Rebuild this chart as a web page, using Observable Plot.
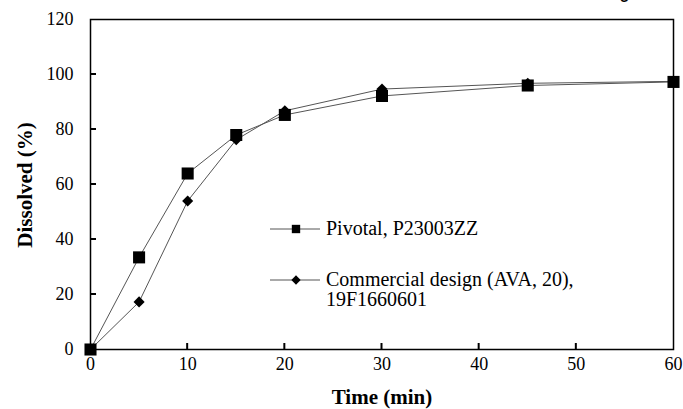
<!DOCTYPE html>
<html>
<head>
<meta charset="utf-8">
<script src="https://cdn.jsdelivr.net/npm/d3@7"></script>
<script src="https://cdn.jsdelivr.net/npm/@observablehq/plot@0.6"></script>
<style>
  html, body { margin: 0; padding: 0; background: #fff; overflow: hidden; }
  #wrap { position: relative; width: 683px; height: 409px; overflow: hidden; }
</style>
</head>
<body>
<div id="wrap">
  <div id="chart"></div>
</div>
<script>
const titleText = "Dissolution Profile: Pivotal vs Commercial Coating";
const times = [0, 5, 10, 15, 20, 30, 45, 60];
const pivotal = [0, 33.5, 64, 78, 85.3, 92.2, 96, 97.3];
const commercial = [0, 17.3, 54, 76.3, 86.8, 94.7, 96.8, 97.5];
const seriesNames = ["Pivotal, P23003ZZ", "Commercial design (AVA, 20),\n19F1660601"];
const xTicks = [0, 10, 20, 30, 40, 50, 60];
const yTicks = [0, 20, 40, 60, 80, 100, 120];

const rowsP = times.map((t, i) => ({t, v: pivotal[i]}));
const rowsC = times.map((t, i) => ({t, v: commercial[i]}));

const serif = '"Liberation Serif", "Times New Roman", serif';

const chart = Plot.plot({
  width: 683,
  height: 409,
  marginLeft: 90,
  marginRight: 10,
  marginTop: 19,
  marginBottom: 60,
  style: {fontFamily: serif, fontSize: "18px", color: "#000", background: "transparent", overflow: "hidden"},
  x: {domain: [0, 60]},
  y: {domain: [0, 120]},
  marks: [
    Plot.axisX({ticks: xTicks, tickSize: 0, tickPadding: 8, label: null}),
    Plot.axisY({ticks: yTicks, tickSize: 0, tickPadding: 17, label: null}),
    Plot.line(rowsC, {x: "t", y: "v", stroke: "#555", strokeWidth: 1}),
    Plot.line(rowsP, {x: "t", y: "v", stroke: "#555", strokeWidth: 1}),
    Plot.dot(rowsC, {x: "t", y: "v", symbol: "diamond2", r: 5, fill: "#000", stroke: "none"}),
    Plot.dot(rowsP, {x: "t", y: "v", symbol: "square", r: 6.8, fill: "#000", stroke: "none"}),
    Plot.frame({stroke: "#000", strokeWidth: 1.5})
  ]
});
document.getElementById("chart").appendChild(chart);

const sx = chart.scale("x"), sy = chart.scale("y");
const xs = v => sx.apply(v), ys = v => sy.apply(v);
const svg = d3.select(chart);

// inward ticks
const tk = svg.append("g").attr("stroke", "#000").attr("stroke-width", 2);
xTicks.slice(1, -1).forEach(v => {
  tk.append("line").attr("x1", xs(v)).attr("x2", xs(v)).attr("y1", ys(0)).attr("y2", ys(0) - 6);
});
yTicks.slice(1, -1).forEach(v => {
  tk.append("line").attr("x1", xs(0)).attr("x2", xs(0) + 6).attr("y1", ys(v)).attr("y2", ys(v));
});

// clipped title (only its lower edge shows, as in the source)
svg.append("text").attr("x", 195).attr("y", -3).attr("text-anchor", "start")
  .attr("textLength", 435).attr("lengthAdjust", "spacingAndGlyphs")
  .attr("font-family", '"Liberation Sans", Arial, sans-serif').attr("font-size", 24).text(titleText);

// axis titles
svg.append("text").attr("x", 382).attr("y", 404).attr("text-anchor", "middle")
  .attr("font-family", serif).attr("font-weight", "bold").attr("font-size", 21).text("Time (min)");
svg.append("text").attr("transform", "translate(32,185) rotate(-90)").attr("text-anchor", "middle")
  .attr("font-family", serif).attr("font-weight", "bold").attr("font-size", 21).text("Dissolved (%)");

// legend
const leg = svg.append("g").attr("transform", "translate(270,229)");
const rowsY = [0, 51];
const syms = [d3.symbolSquare, d3.symbolDiamond2];
const symSize = [70, 55];
seriesNames.forEach((name, i) => {
  const g = leg.append("g").attr("transform", `translate(0,${rowsY[i]})`);
  g.append("line").attr("x1", 0).attr("x2", 50).attr("stroke", "#555").attr("stroke-width", 1);
  g.append("path").attr("d", d3.symbol(syms[i], symSize[i])()).attr("transform", "translate(26,0)").attr("fill", "#000");
  name.split("\n").forEach((ln, j) => {
    g.append("text").attr("x", 56).attr("y", 6 + j * 20).attr("text-anchor", "start")
      .attr("font-family", serif).attr("font-size", 20).text(ln);
  });
});
</script>
</body>
</html>
